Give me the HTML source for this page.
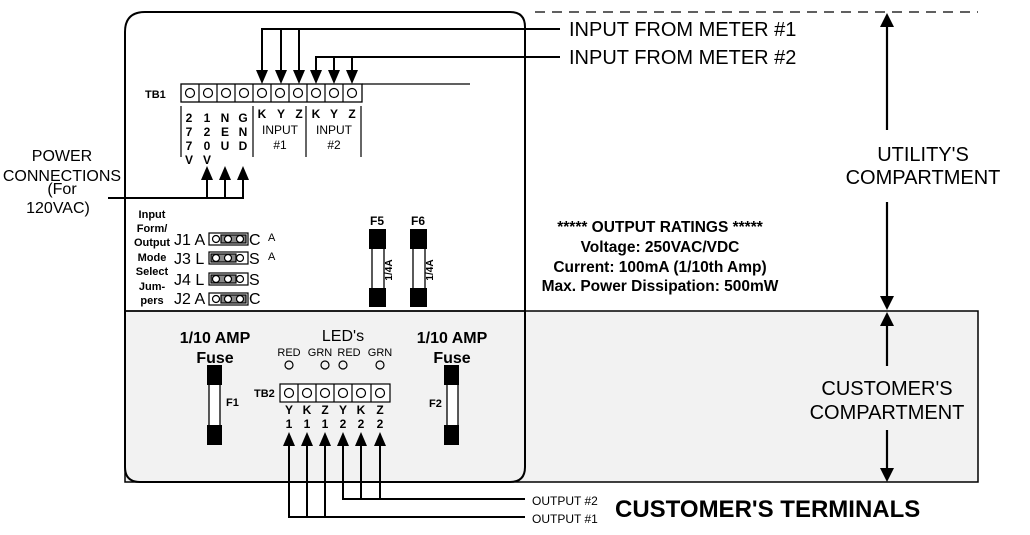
<!DOCTYPE html>
<html><head><meta charset="utf-8"><style>
html,body{margin:0;padding:0;background:#fff;}
svg{display:block;font-family:"Liberation Sans",Arial,sans-serif;}
.b{font-weight:bold;}
</style></head><body>
<svg width="1030" height="535" viewBox="0 0 1030 535" xmlns="http://www.w3.org/2000/svg">
<rect x="125" y="311" width="853" height="171" fill="#f2f2f2" stroke="#000" stroke-width="1.5"/>
<path d="M145,12 H510 Q525,12 525,27 V467 Q525,482 510,482 H140 Q125,482 125,467 V32 Q125,12 145,12 Z" fill="none" stroke="#000" stroke-width="2"/>
<line x1="125" y1="311" x2="525" y2="311" stroke="#000" stroke-width="1.5"/>
<line x1="535" y1="12" x2="978" y2="12" stroke="#000" stroke-width="1.3" stroke-dasharray="10,7"/>

<text x="145" y="98" font-size="11" class="b">TB1</text>
<rect x="181" y="84" width="181" height="18" stroke="#000" stroke-width="1.3" fill="#fff"/>
<g stroke="#000" stroke-width="1.2" fill="none">
<line x1="199" y1="84" x2="199" y2="102"/><line x1="217" y1="84" x2="217" y2="102"/><line x1="235" y1="84" x2="235" y2="102"/><line x1="253" y1="84" x2="253" y2="102"/><line x1="271" y1="84" x2="271" y2="102"/><line x1="289" y1="84" x2="289" y2="102"/><line x1="307" y1="84" x2="307" y2="102"/><line x1="325" y1="84" x2="325" y2="102"/><line x1="343" y1="84" x2="343" y2="102"/>
<circle cx="190" cy="93" r="4.5"/><circle cx="208" cy="93" r="4.5"/><circle cx="226" cy="93" r="4.5"/><circle cx="244" cy="93" r="4.5"/><circle cx="262" cy="93" r="4.5"/><circle cx="280" cy="93" r="4.5"/><circle cx="298" cy="93" r="4.5"/><circle cx="316" cy="93" r="4.5"/><circle cx="334" cy="93" r="4.5"/><circle cx="352" cy="93" r="4.5"/>
<line x1="362" y1="84" x2="470" y2="84"/>
<line x1="181" y1="106" x2="181" y2="157"/><line x1="253" y1="106" x2="253" y2="157"/><line x1="306" y1="106" x2="306" y2="157"/><line x1="361" y1="106" x2="361" y2="157"/>
</g>
<g font-size="12" class="b" text-anchor="middle">
<text x="189" y="122">2</text><text x="189" y="136">7</text><text x="189" y="150">7</text><text x="189" y="164">V</text>
<text x="207" y="122">1</text><text x="207" y="136">2</text><text x="207" y="150">0</text><text x="207" y="164">V</text>
<text x="225" y="122">N</text><text x="225" y="136">E</text><text x="225" y="150">U</text>
<text x="243" y="122">G</text><text x="243" y="136">N</text><text x="243" y="150">D</text>
<text x="262" y="118">K</text><text x="281" y="118">Y</text><text x="299" y="118">Z</text>
<text x="316" y="118">K</text><text x="334" y="118">Y</text><text x="352" y="118">Z</text>
</g>
<g font-size="12" text-anchor="middle">
<text x="280" y="134">INPUT</text><text x="280" y="149">#1</text>
<text x="334" y="134">INPUT</text><text x="334" y="149">#2</text>
</g>
<g stroke="#000" stroke-width="2" fill="none">
<polyline points="560,29 262,29 262,74"/>
<line x1="281" y1="29" x2="281" y2="74"/><line x1="299" y1="29" x2="299" y2="74"/>
<polyline points="560,57 316,57 316,74"/>
<line x1="334" y1="57" x2="334" y2="74"/><line x1="352" y1="57" x2="352" y2="74"/>
</g>
<g fill="#000">
<path d="M256,70 h12 l-6,14z"/><path d="M275,70 h12 l-6,14z"/><path d="M293,70 h12 l-6,14z"/>
<path d="M310,70 h12 l-6,14z"/><path d="M328,70 h12 l-6,14z"/><path d="M346,70 h12 l-6,14z"/>
</g>
<text x="569" y="36" font-size="20">INPUT FROM METER #1</text>
<text x="569" y="64" font-size="20">INPUT FROM METER #2</text>

<g stroke="#000" stroke-width="2" fill="none">
<polyline points="108,198 243,198 243,176"/>
<line x1="207" y1="198" x2="207" y2="176"/><line x1="225" y1="198" x2="225" y2="176"/>
</g>
<g fill="#000">
<path d="M201,180 h12 l-6,-14z"/><path d="M219,180 h12 l-6,-14z"/><path d="M237,180 h12 l-6,-14z"/>
</g>
<g font-size="16" text-anchor="middle">
<text x="62" y="161">POWER</text><text x="62" y="181">CONNECTIONS</text><text x="62" y="194">(For</text><text x="58" y="213">120VAC)</text>
</g>

<g font-size="11" class="b" text-anchor="middle">
<text x="152" y="218">Input</text><text x="152" y="232">Form/</text><text x="152" y="246">Output</text><text x="152" y="261">Mode</text><text x="152" y="275">Select</text><text x="152" y="290">Jum-</text><text x="152" y="304">pers</text>
</g>
<g font-size="16">
<text x="174" y="245">J1 A</text><text x="174" y="264">J3 L</text><text x="174" y="285">J4 L</text><text x="174" y="304">J2 A</text>
<text x="249" y="245">C</text><text x="249" y="264">S</text><text x="249" y="285">S</text><text x="249" y="304">C</text>
</g>
<g font-size="11"><text x="268" y="241">A</text><text x="268" y="260">A</text></g>
<g stroke="#000" stroke-width="1.2">
<rect x="209" y="233" width="39" height="12" fill="#fff"/><rect x="221" y="235" width="25" height="8" fill="#888"/>
<rect x="209" y="252" width="39" height="12" fill="#fff"/><rect x="211" y="254" width="25" height="8" fill="#888"/>
<rect x="209" y="273" width="39" height="12" fill="#fff"/><rect x="211" y="275" width="25" height="8" fill="#888"/>
<rect x="209" y="293" width="39" height="12" fill="#fff"/><rect x="221" y="295" width="25" height="8" fill="#888"/>
</g>
<g fill="#fff" stroke="#000" stroke-width="1.2">
<circle cx="216" cy="239" r="3.5"/><circle cx="228" cy="239" r="3.5"/><circle cx="240" cy="239" r="3.5"/>
<circle cx="216" cy="258" r="3.5"/><circle cx="228" cy="258" r="3.5"/><circle cx="240" cy="258" r="3.5"/>
<circle cx="216" cy="279" r="3.5"/><circle cx="228" cy="279" r="3.5"/><circle cx="240" cy="279" r="3.5"/>
<circle cx="216" cy="299" r="3.5"/><circle cx="228" cy="299" r="3.5"/><circle cx="240" cy="299" r="3.5"/>
</g>

<g font-size="12" class="b" text-anchor="middle"><text x="377" y="225">F5</text><text x="418" y="225">F6</text></g>
<g stroke="#000" stroke-width="1.3" fill="#fff">
<rect x="372" y="240" width="12" height="55"/><rect x="413" y="240" width="12" height="55"/>
</g>
<g fill="#000">
<rect x="369" y="229" width="17" height="20"/><rect x="369" y="288" width="17" height="19"/>
<rect x="410" y="229" width="17" height="20"/><rect x="410" y="288" width="17" height="19"/>
</g>
<g font-size="10" class="b" text-anchor="middle">
<text transform="translate(392,270) rotate(-90)">1/4A</text>
<text transform="translate(433,270) rotate(-90)">1/4A</text>
</g>

<g font-size="15.5" class="b" text-anchor="middle">
<text x="660" y="232">***** OUTPUT RATINGS *****</text>
<text x="660" y="252">Voltage: 250VAC/VDC</text>
<text x="660" y="272">Current: 100mA (1/10th Amp)</text>
<text x="660" y="291">Max. Power Dissipation: 500mW</text>
</g>

<g stroke="#000" stroke-width="2.2">
<line x1="887" y1="24" x2="887" y2="130"/><line x1="887" y1="202" x2="887" y2="300"/>
<line x1="887" y1="322" x2="887" y2="366"/><line x1="887" y1="430" x2="887" y2="472"/>
</g>
<g fill="#000">
<path d="M887,13 l-7,14 h14z"/><path d="M887,310 l-7,-14 h14z"/>
<path d="M887,312 l-7,14 h14z"/><path d="M887,482 l-7,-14 h14z"/>
</g>
<g font-size="20" text-anchor="middle">
<text x="923" y="161">UTILITY'S</text><text x="923" y="184">COMPARTMENT</text>
<text x="887" y="395">CUSTOMER'S</text><text x="887" y="419">COMPARTMENT</text>
</g>

<g font-size="16" class="b" text-anchor="middle">
<text x="215" y="343">1/10 AMP</text><text x="215" y="363">Fuse</text>
<text x="452" y="343">1/10 AMP</text><text x="452" y="363">Fuse</text>
</g>
<g stroke="#000" stroke-width="1.3" fill="#fff">
<rect x="209" y="378" width="11" height="55"/><rect x="447" y="378" width="11" height="55"/>
</g>
<g fill="#000">
<rect x="207" y="365" width="15" height="20"/><rect x="207" y="425" width="15" height="20"/>
<rect x="444" y="365" width="15" height="20"/><rect x="444" y="425" width="15" height="20"/>
</g>
<g font-size="11" class="b"><text x="226" y="406">F1</text><text x="429" y="407">F2</text></g>

<text x="343" y="341" font-size="16" text-anchor="middle">LED's</text>
<g font-size="11" text-anchor="middle">
<text x="289" y="356">RED</text><text x="320" y="356">GRN</text><text x="349" y="356">RED</text><text x="380" y="356">GRN</text>
</g>
<g fill="none" stroke="#000" stroke-width="1.2">
<circle cx="289" cy="365" r="4"/><circle cx="325" cy="365" r="4"/><circle cx="343" cy="365" r="4"/><circle cx="380" cy="365" r="4"/>
</g>
<text x="254" y="397" font-size="11" class="b">TB2</text>
<rect x="280" y="384" width="110" height="18" stroke="#000" stroke-width="1.2" fill="#fff"/>
<g stroke="#000" stroke-width="1.2" fill="none">
<line x1="298" y1="384" x2="298" y2="402"/><line x1="316" y1="384" x2="316" y2="402"/><line x1="334" y1="384" x2="334" y2="402"/><line x1="352" y1="384" x2="352" y2="402"/><line x1="371" y1="384" x2="371" y2="402"/>
<circle cx="289" cy="393" r="4.5"/><circle cx="307" cy="393" r="4.5"/><circle cx="325" cy="393" r="4.5"/><circle cx="343" cy="393" r="4.5"/><circle cx="361" cy="393" r="4.5"/><circle cx="380" cy="393" r="4.5"/>
</g>
<g font-size="12" class="b" text-anchor="middle">
<text x="289" y="414">Y</text><text x="307" y="414">K</text><text x="325" y="414">Z</text><text x="343" y="414">Y</text><text x="361" y="414">K</text><text x="380" y="414">Z</text>
<text x="289" y="428">1</text><text x="307" y="428">1</text><text x="325" y="428">1</text><text x="343" y="428">2</text><text x="361" y="428">2</text><text x="380" y="428">2</text>
</g>
<g stroke="#000" stroke-width="2" fill="none">
<polyline points="525,517 289,517 289,440"/><line x1="307" y1="517" x2="307" y2="440"/><line x1="325" y1="517" x2="325" y2="440"/>
<polyline points="525,499 343,499 343,440"/><line x1="361" y1="499" x2="361" y2="440"/><line x1="380" y1="499" x2="380" y2="440"/>
</g>
<g fill="#000">
<path d="M283,446 h12 l-6,-14z"/><path d="M301,446 h12 l-6,-14z"/><path d="M319,446 h12 l-6,-14z"/>
<path d="M337,446 h12 l-6,-14z"/><path d="M355,446 h12 l-6,-14z"/><path d="M374,446 h12 l-6,-14z"/>
</g>
<g font-size="12"><text x="532" y="505">OUTPUT #2</text><text x="532" y="523">OUTPUT #1</text></g>
<text x="615" y="517" font-size="24" class="b">CUSTOMER'S TERMINALS</text>
</svg>
</body></html>
